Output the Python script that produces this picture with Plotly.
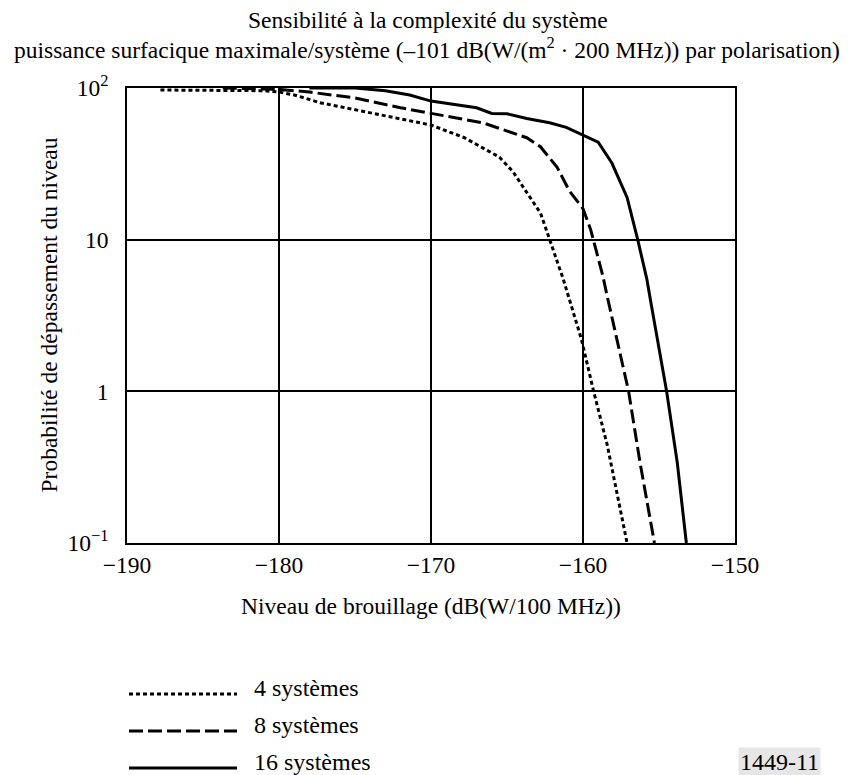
import plotly.graph_objects as go

# ---- data ----
x_4 = [-187.8, -184, -181, -180, -179, -177.3, -175, -173, -170, -167.8, -165.5, -164.6,
       -163.5, -162.8, -162.4, -161.3, -160.1, -159.3, -158.4, -157.7, -157.1]
y_4 = [97, 97, 96, 94, 90, 80, 72, 65, 57, 47, 35, 28, 19, 15, 11.5, 5.5, 2.2, 1.0, 0.44, 0.2, 0.1]

x_8 = [-183.7, -180, -178, -175, -172, -170, -166.6, -163.7, -162.8, -161.7, -160.9, -160,
       -159.5, -158.7, -158.4, -157.0, -156.25, -155.3]
y_8 = [100, 98, 94, 86, 74, 68, 59, 47, 41, 30, 21, 16, 11.7, 5.8, 4.2, 1.0, 0.34, 0.1]

x_16 = [-178, -175, -173, -171.4, -170, -168.5, -167, -166, -165, -163.7, -162.2, -161.1,
        -160, -159, -158.1, -157.1, -156.4, -155.8, -155.6, -155.1, -154.5, -153.8, -153.2]
y_16 = [100, 100, 96, 90, 82, 77.6, 74, 68, 67.6, 63, 59, 55, 49, 44, 32, 19, 10, 5.5, 4.2,
        2.2, 1.0, 0.34, 0.1]

series_names = ["4 systèmes", "8 systèmes", "16 systèmes"]
x_ticks = [-190, -180, -170, -160, -150]
x_ticklabels = ["−190", "−180", "−170", "−160", "−150"]
y_ticks = [0.1, 1, 10, 100]
y_ticklabels = ["10<sup>−1</sup>", "1", "10", "10<sup>2</sup>"]

title_1 = "Sensibilité à la complexité du système"
title_2 = "puissance surfacique maximale/système (–101 dB(W/(m<sup>2</sup> · 200 MHz)) par polarisation)"
x_title = "Niveau de brouillage (dB(W/100 MHz))"
y_title = "Probabilité de dépassement du niveau"
fig_id = "1449-11"

FONT = "Liberation Serif, Times New Roman, serif"
FS = 23.5
dashes = ["4px,3px", "14px,5px", "solid"]

fig = go.Figure()
for xs, ys, name, d in zip([x_4, x_8, x_16], [y_4, y_8, y_16], series_names, dashes):
    fig.add_trace(go.Scatter(x=xs, y=ys, mode="lines", name=name,
                             line=dict(color="black", width=3, dash=d),
                             showlegend=False))

fig.update_layout(
    width=854, height=775,
    margin=dict(l=119, r=127, t=80, b=240),
    paper_bgcolor="white", plot_bgcolor="white",
    font=dict(family=FONT, size=FS, color="black"),
    showlegend=False,
)
fig.update_xaxes(range=[-190, -150], tickvals=x_ticks, ticktext=x_ticklabels,
                 tickfont=dict(family=FONT, size=FS, color="black"),
                 showgrid=True, gridcolor="black", gridwidth=2,
                 showline=True, linecolor="black", linewidth=1.5, mirror=True,
                 ticks="", zeroline=False, ticklabelstandoff=0,
                 title=dict(text=x_title, standoff=21,
                            font=dict(family=FONT, size=FS, color="black")))
fig.update_yaxes(type="log", range=[-1, 2], tickvals=y_ticks, ticktext=y_ticklabels,
                 tickfont=dict(family=FONT, size=FS, color="black"),
                 showgrid=True, gridcolor="black", gridwidth=2,
                 showline=True, linecolor="black", linewidth=1.5, mirror=True,
                 ticks="", zeroline=False, ticklabelstandoff=12)


def px_to_paper_x(px):
    return (px - 127) / 608


def py_to_paper_y(py):
    return (543 - py) / 455


# y-axis title as rotated annotation
fig.add_annotation(text=y_title, xref="paper", yref="paper",
                   x=px_to_paper_x(48), y=0.5, textangle=-90,
                   xanchor="center", yanchor="middle", showarrow=False,
                   font=dict(family=FONT, size=FS, color="black"))

# titles
fig.add_annotation(text=title_1, xref="paper", yref="paper",
                   x=px_to_paper_x(428), y=py_to_paper_y(20),
                   xanchor="center", yanchor="middle", showarrow=False,
                   font=dict(family=FONT, size=FS, color="black"))
fig.add_annotation(text=title_2, xref="paper", yref="paper",
                   x=px_to_paper_x(427), y=py_to_paper_y(48),
                   xanchor="center", yanchor="middle", showarrow=False,
                   font=dict(family=FONT, size=FS, color="black"))

# legend drawn manually
rows_line = [694, 731, 768]
for name, d, py in zip(series_names, dashes, rows_line):
    fig.add_shape(type="line", xref="paper", yref="paper",
                  x0=px_to_paper_x(129), x1=px_to_paper_x(237),
                  y0=py_to_paper_y(py), y1=py_to_paper_y(py),
                  line=dict(color="black", width=3, dash=d))
    fig.add_annotation(text=name, xref="paper", yref="paper",
                       x=px_to_paper_x(252), y=py_to_paper_y(py - 6),
                       xanchor="left", yanchor="middle", showarrow=False,
                       font=dict(family=FONT, size=24, color="black"))

fig.add_annotation(text=fig_id, xref="paper", yref="paper",
                   x=px_to_paper_x(779), y=py_to_paper_y(762),
                   xanchor="center", yanchor="middle", showarrow=False,
                   bgcolor="#e6e6e6", borderpad=1,
                   font=dict(family=FONT, size=24, color="black"))

fig.write_html("out.html")
